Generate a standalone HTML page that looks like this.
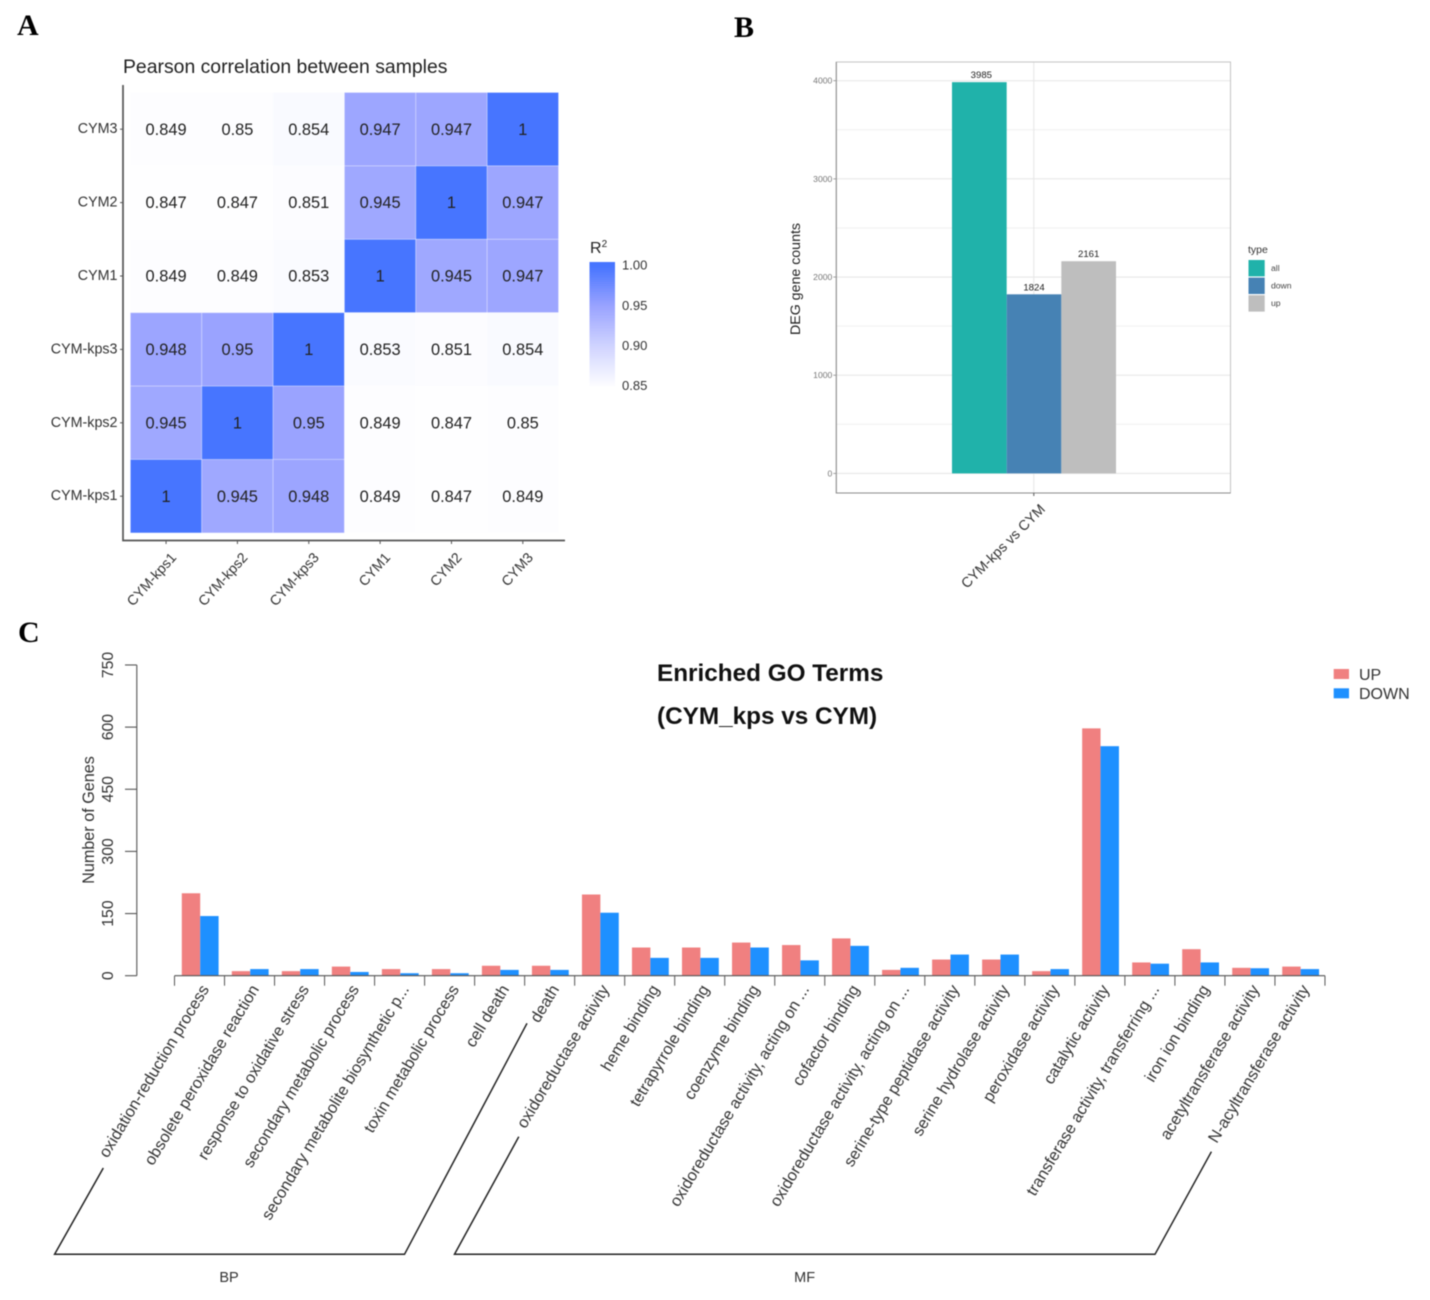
<!DOCTYPE html>
<html lang="en">
<head>
<meta charset="utf-8">
<title>Figure panels</title>
<style>
html,body{margin:0;padding:0;background:#fff;}
svg{display:block;font-family:"Liberation Sans",sans-serif;filter:blur(0.5px);}
.panel{font-family:"Liberation Serif",serif;font-weight:bold;font-size:30px;fill:#000;}
</style>
</head>
<body>
<svg id="fig" xmlns="http://www.w3.org/2000/svg" width="1430" height="1300" viewBox="0 0 1430 1300">
  <rect x="0" y="0" width="1430" height="1300" fill="#fff"/>
  <text class="panel" x="17" y="35">A</text>
  <text class="panel" x="734" y="37">B</text>
  <text class="panel" x="18" y="642">C</text>

  <g id="heat">
    <text x="123" y="73" font-size="19.4" fill="#222">Pearson correlation between samples</text>
    <text x="590" y="253" font-size="16" fill="#222">R<tspan font-size="10" dy="-6">2</tspan></text>
  </g>

  <g id="deg">
    <text transform="translate(800,279) rotate(-90)" text-anchor="middle" font-size="14.2" fill="#222">DEG gene counts</text>
    <text x="1248" y="253" font-size="10.5" fill="#333">type</text>
  </g>

  <g id="go">
    <text x="657" y="681" font-size="24.3" font-weight="bold" fill="#111">Enriched GO Terms</text>
    <text x="657" y="724" font-size="24.3" font-weight="bold" fill="#111">(CYM_kps vs CYM)</text>
    <text transform="translate(94,820) rotate(-90)" text-anchor="middle" font-size="16.2" fill="#333">Number of Genes</text>
    <polyline points="103.3,1168 54.6,1254.3 404.5,1254.3 527,1023.3" fill="none" stroke="#222" stroke-width="1.5"/>
    <polyline points="518.8,1136.7 454.5,1254.3 1155,1254.3 1211.4,1151.7" fill="none" stroke="#222" stroke-width="1.5"/>
    <text x="229" y="1282" text-anchor="middle" font-size="14.5" fill="#333">BP</text>
    <text x="804.6" y="1282" text-anchor="middle" font-size="14.5" fill="#333">MF</text>
  </g>
</svg>
<script>
// ---- Panel A data ----
const heatRowLabels = ['CYM3', 'CYM2', 'CYM1', 'CYM-kps3', 'CYM-kps2', 'CYM-kps1'];
const heatColLabels = ['CYM-kps1', 'CYM-kps2', 'CYM-kps3', 'CYM1', 'CYM2', 'CYM3'];
const heatRowCYM3 = [0.849, 0.85, 0.854, 0.947, 0.947, 1];
const heatRowCYM2 = [0.847, 0.847, 0.851, 0.945, 1, 0.947];
const heatRowCYM1 = [0.849, 0.849, 0.853, 1, 0.945, 0.947];
const heatRowKps3 = [0.948, 0.95, 1, 0.853, 0.851, 0.854];
const heatRowKps2 = [0.945, 1, 0.95, 0.849, 0.847, 0.85];
const heatRowKps1 = [1, 0.945, 0.948, 0.849, 0.847, 0.849];
const heatLegendTicks = ['1.00', '0.95', '0.90', '0.85'];

// ---- Panel B data ----
const degTypes = ['all', 'down', 'up'];
const degValues = [3985, 1824, 2161];
const degTicks = [0, 1000, 2000, 3000, 4000];
const degMinorTicks = [500, 1500, 2500, 3500];
const degCategory = 'CYM-kps vs CYM';

// ---- Panel C data ----
const goTerms = ['oxidation-reduction process', 'obsolete peroxidase reaction', 'response to oxidative stress', 'secondary metabolic process', 'secondary metabolite biosynthetic p...', 'toxin metabolic process', 'cell death', 'death', 'oxidoreductase activity', 'heme binding', 'tetrapyrrole binding', 'coenzyme binding', 'oxidoreductase activity, acting on ...', 'cofactor binding', 'oxidoreductase activity, acting on ...', 'serine-type peptidase activity', 'serine hydrolase activity', 'peroxidase activity', 'catalytic activity', 'transferase activity, transferring ...', 'iron ion binding', 'acetyltransferase activity', 'N-acyltransferase activity'];
const goUp = [199, 11, 11, 22, 16, 16, 24, 24, 196, 68, 68, 80, 74, 90, 14, 39, 39, 11, 597, 32, 64, 19, 22];
const goDown = [144, 16, 16, 9, 6, 6, 14, 14, 152, 43, 43, 68, 37, 72, 19, 51, 51, 16, 554, 29, 32, 18, 16];
const goTicks = [0, 150, 300, 450, 600, 750];
const goLegend = ['UP', 'DOWN'];

const NS = 'http://www.w3.org/2000/svg';
function mk(parent, tag, attrs, text) {
  const el = document.createElementNS(NS, tag);
  for (const k in attrs) el.setAttribute(k, attrs[k]);
  if (text !== undefined) el.textContent = text;
  parent.appendChild(el);
  return el;
}

// ---- Panel A ----
(function () {
  const g = document.getElementById('heat');
  const x0 = 130.4, y0 = 92.5, cw = 71.35, ch = 73.4;
  const hx = i => x0 + cw * i;
  const hy = r => y0 + ch * r;
  const matrix = [heatRowCYM3, heatRowCYM2, heatRowCYM1, heatRowKps3, heatRowKps2, heatRowKps1];
  const colorStops = [[0.84, 255, 255, 255], [0.85, 253, 253, 255], [0.9, 208, 212, 255], [0.95, 154, 163, 255], [1, 71, 117, 255]];
  function heatColor(v) {
    for (let i = 1; i < colorStops.length; i++) {
      if (v <= colorStops[i][0]) {
        const a = colorStops[i - 1], b = colorStops[i];
        const t = (v - a[0]) / (b[0] - a[0]);
        return 'rgb(' + [1, 2, 3].map(c => Math.round(a[c] + (b[c] - a[c]) * t)).join(',') + ')';
      }
    }
    return 'rgb(71,117,255)';
  }
  matrix.forEach((row, r) => {
    row.forEach((v, c) => {
      const cell = mk(g, 'rect', { x: hx(c), y: hy(r), width: cw, height: ch, fill: heatColor(v), stroke: 'rgba(255,255,255,0.35)', 'stroke-width': 0.8 });
      
      
      const t = mk(g, 'text', { x: hx(c) + cw / 2, y: hy(r) + ch / 2 + 5.6, 'text-anchor': 'middle', 'font-size': 16.4, fill: '#222' }, String(v));
      
      
    });
  });
  const axes = mk(g, 'path', { d: 'M123 85V540.5H565', fill: 'none', stroke: '#555', 'stroke-width': 1.7 });
  
  
  heatRowLabels.forEach((lab, r) => {
    const yc = hy(r) + ch / 2;
    const tick = mk(g, 'line', { x1: 120, x2: 123, y1: yc, y2: yc, stroke: '#555', 'stroke-width': 1 });
    
    
    const t = mk(g, 'text', { x: 117.5, y: yc + 4, 'text-anchor': 'end', 'font-size': 14.3, fill: '#333' }, lab);
    
    
  });
  heatColLabels.forEach((lab, c) => {
    const xc = hx(c) + cw / 2;
    const tick = mk(g, 'line', { x1: xc, x2: xc, y1: 540, y2: 544, stroke: '#555', 'stroke-width': 1 });
    
    
    const t = mk(g, 'text', { transform: 'translate(' + (xc + 11) + ',558) rotate(-48)', 'text-anchor': 'end', 'font-size': 14.1, fill: '#333' }, lab);
    
    
  });
  // colour bar
  const barTop = 262, barH = 123.4, barX = 589.5, barW = 25.5;
  const legendY = v => 265 + (1 - v) / 0.05 * 40.2;
  for (let i = 0; i < 62; i++) {
    const v = 1.004 - i * (0.154 / 62);
    const s = mk(g, 'rect', { x: barX, y: barTop + i * barH / 62, width: barW, height: barH / 62 + 0.5, fill: heatColor(v) });
    
    
  }
  heatLegendTicks.forEach(lab => {
    const v = parseFloat(lab);
    const t = mk(g, 'text', { x: 622, y: legendY(v) + 4.6, 'font-size': 13, fill: '#333' }, lab);
    
    
  });
})();

// ---- Panel B ----
(function () {
  const g = document.getElementById('deg');
  const left = 836.3, right = 1230.5, top = 62, bottom = 493;
  const yB = v => 473.4 - v * 0.09818;
  const barX0 = 952, barW = 54.67;
  const barColors = ['#20b2aa', '#4682b4', '#bebebe'];
  degMinorTicks.forEach(v => {
    const l = mk(g, 'line', { x1: left, x2: right, y1: yB(v), y2: yB(v), stroke: '#efefef', 'stroke-width': 1 });
    
    
  });
  degTicks.forEach(v => {
    const l = mk(g, 'line', { x1: left, x2: right, y1: yB(v), y2: yB(v), stroke: '#e8e8e8', 'stroke-width': 1.1 });
    
    
    const tk = mk(g, 'line', { x1: left - 3, x2: left, y1: yB(v), y2: yB(v), stroke: '#888', 'stroke-width': 0.8 });
    
    
    const t = mk(g, 'text', { x: left - 4, y: yB(v) + 3, 'text-anchor': 'end', 'font-size': 8.6, fill: '#777' }, String(v));
    
    
  });
  const vg = mk(g, 'line', { x1: 1033.8, x2: 1033.8, y1: top, y2: bottom, stroke: '#e8e8e8', 'stroke-width': 1.1 });
  
  
  degValues.forEach((v, i) => {
    const b = mk(g, 'rect', { x: barX0 + barW * i, y: yB(v), width: barW, height: yB(0) - yB(v), fill: barColors[i] });
    
    
    const t = mk(g, 'text', { x: barX0 + barW * i + barW / 2 + (i === 0 ? 2 : 0), y: yB(v) - 4, 'text-anchor': 'middle', 'font-size': 9.6, fill: '#222' }, String(v));
    
    
  });
  const box = mk(g, 'rect', { x: left, y: top, width: right - left, height: bottom - top, fill: 'none', stroke: '#c4c4c4', 'stroke-width': 1 });
  
  
  const ax = mk(g, 'path', { d: 'M' + left + ' ' + top + 'V' + bottom + 'H' + right, fill: 'none', stroke: '#8a8a8a', 'stroke-width': 1 });
  
  
  const xt = mk(g, 'line', { x1: 1033.8, x2: 1033.8, y1: bottom, y2: bottom + 3, stroke: '#555', 'stroke-width': 1 });
  
  
  const xl = mk(g, 'text', { transform: 'translate(1046,510) rotate(-45)', 'text-anchor': 'end', 'font-size': 14.2, fill: '#333' }, degCategory);
  
  
  degTypes.forEach((name, i) => {
    const y = 260 + i * 17.6;
    const s = mk(g, 'rect', { x: 1248.5, y: y, width: 16.2, height: 16.4, fill: barColors[i] });
    
    
    const t = mk(g, 'text', { x: 1271, y: y + 11, 'font-size': 8.6, fill: '#444' }, name);
    
    
  });
})();

// ---- Panel C ----
(function () {
  const g = document.getElementById('go');
  const yC = v => 975.7 - v * 0.4143;
  const xC = i => 174.5 + 50.02 * i;
  const barW = 18.4, barOff = 7.3;
  const yAxis = mk(g, 'line', { x1: 136.8, x2: 136.8, y1: yC(750), y2: yC(0), stroke: '#555', 'stroke-width': 1.1 });
  
  
  goTicks.forEach(v => {
    const tk = mk(g, 'line', { x1: 125, x2: 136.8, y1: yC(v), y2: yC(v), stroke: '#555', 'stroke-width': 1.1 });
    
    
    const t = mk(g, 'text', { transform: 'translate(113,' + yC(v) + ') rotate(-90)', 'text-anchor': 'middle', 'font-size': 15.8, fill: '#333' }, String(v));
    
    
  });
  goTerms.forEach((term, i) => {
    const u = mk(g, 'rect', { x: xC(i) + barOff, y: yC(goUp[i]), width: barW, height: yC(0) - yC(goUp[i]), fill: '#f08080' });
    
    
    const d = mk(g, 'rect', { x: xC(i) + barOff + barW, y: yC(goDown[i]), width: barW, height: yC(0) - yC(goDown[i]), fill: '#1e90ff' });
    
    
    const t = mk(g, 'text', { transform: 'translate(' + (xC(i) + 35) + ',989) rotate(-59)', 'text-anchor': 'end', 'font-size': 16.2, fill: '#333' }, term);
    
    
  });
  const xAxis = mk(g, 'line', { x1: xC(0), x2: xC(goTerms.length), y1: yC(0), y2: yC(0), stroke: '#555', 'stroke-width': 1.1 });
  
  
  for (let i = 0; i <= goTerms.length; i++) {
    const tk = mk(g, 'line', { x1: xC(i), x2: xC(i), y1: yC(0), y2: yC(0) + 10, stroke: '#555', 'stroke-width': 1 });
    
    
  }
  const legendColors = ['#f08080', '#1e90ff'];
  goLegend.forEach((name, i) => {
    const y = 669 + i * 19.3;
    const s = mk(g, 'rect', { x: 1333.7, y: y, width: 15.3, height: 10, fill: legendColors[i] });
    
    
    const t = mk(g, 'text', { x: 1359, y: y + 10.8, 'font-size': 16, fill: '#333' }, name);
    
    
  });
})();
</script>
</body>
</html>
